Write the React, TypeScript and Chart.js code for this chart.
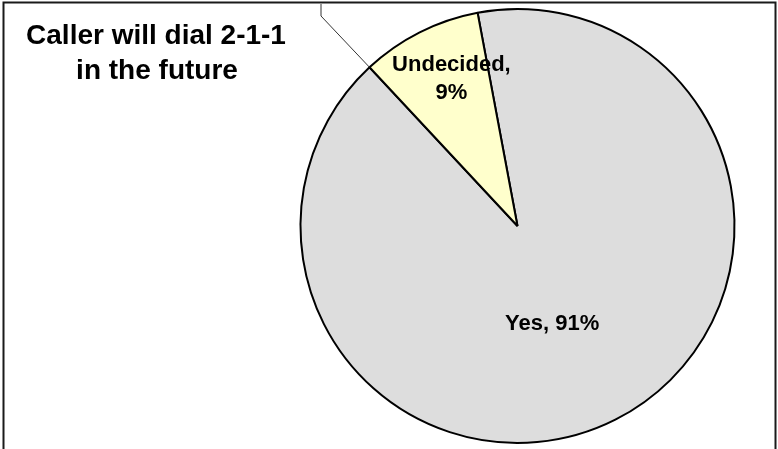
import React, { useEffect, useRef } from "react";
import { Chart, registerables } from "chart.js";

Chart.register(...registerables);

const categories = ["Yes", "Undecided"];
const values = [91, 9];
const sliceColors = ["#DDDDDD", "#FFFFCC"];
const sliceLabels = [["Yes, 91%"], ["Undecided,", "9%"]];
const titleLines = ["Caller will dial 2-1-1", "in the future"];
// label anchor: fraction of radius and angular shift (degrees) from slice middle
const labelRadiusFrac = [0.48, 0.743];
const labelAngleShift = [7.4, 2.6];

const FONT = '"Liberation Sans", Arial, Helvetica, sans-serif';

const decorPlugin = {
  id: "decor",
  afterDatasetsDraw(chart: any) {
    const ctx = chart.ctx as CanvasRenderingContext2D;
    const meta = chart.getDatasetMeta(0);
    ctx.save();
    // outer frame
    ctx.strokeStyle = "#1a1a1a";
    ctx.lineWidth = 2;
    ctx.strokeRect(3.5, 2.5, 772, 470);

    // leader line to the Undecided slice edge
    const und: any = meta.data[1];
    if (und) {
      const a = und.startAngle;
      const ex = und.x + und.outerRadius * Math.cos(a);
      const ey = und.y + und.outerRadius * Math.sin(a);
      ctx.strokeStyle = "#333";
      ctx.lineWidth = 1;
      ctx.beginPath();
      ctx.moveTo(321, 4);
      ctx.lineTo(321, 16);
      ctx.lineTo(ex, ey);
      ctx.stroke();
    }

    // slice labels
    ctx.fillStyle = "#000";
    ctx.font = `bold 22px ${FONT}`;
    ctx.textAlign = "center";
    ctx.textBaseline = "middle";
    meta.data.forEach((arc: any, i: number) => {
      const mid = (arc.startAngle + arc.endAngle) / 2 + (labelAngleShift[i] * Math.PI) / 180;
      const r = arc.outerRadius * labelRadiusFrac[i];
      const x = arc.x + r * Math.cos(mid);
      const y = arc.y + r * Math.sin(mid);
      const lines = sliceLabels[i];
      const lh = 28;
      lines.forEach((t, k) => {
        ctx.fillText(t, x, y + (k - (lines.length - 1) / 2) * lh);
      });
    });

    // title
    ctx.font = `bold 28px ${FONT}`;
    ctx.textBaseline = "alphabetic";
    ctx.fillText(titleLines[0], 156, 44);
    ctx.fillText(titleLines[1], 157, 79);
    ctx.restore();
  },
};

export default function App() {
  const canvasRef = useRef<HTMLCanvasElement | null>(null);

  useEffect(() => {
    document.body.style.margin = "0";
    const canvas = canvasRef.current;
    if (!canvas) return;
    const chart = new Chart(canvas, {
      type: "pie",
      data: {
        labels: categories,
        datasets: [
          {
            data: values,
            backgroundColor: sliceColors,
            borderColor: "#000000",
            borderWidth: 2,
            hoverOffset: 0,
            offset: 0,
          },
        ],
      },
      options: {
        responsive: false,
        animation: false,
        rotation: -10.6,
        layout: { padding: { left: 299.5, right: 42.5, top: 8, bottom: 5 } },
        plugins: {
          legend: { display: false },
          tooltip: { enabled: false },
          title: { display: false },
        },
        events: [],
      },
      plugins: [decorPlugin],
    });
    return () => chart.destroy();
  }, []);

  return (
    <div style={{ position: "absolute", left: 0, top: 0, width: 778, height: 449, background: "#fff" }}>
      <canvas ref={canvasRef} width={778} height={449} style={{ display: "block" }} />
    </div>
  );
}
